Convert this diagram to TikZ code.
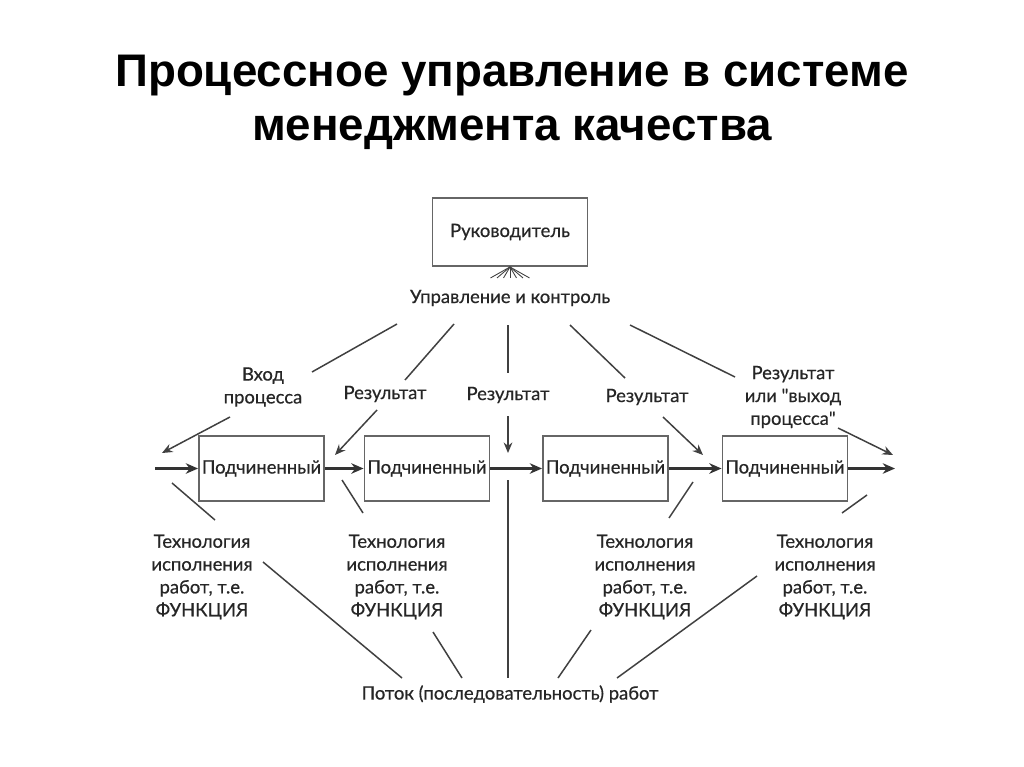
\documentclass[tikz,border=0pt]{standalone}
\usepackage{fontspec}
\setmainfont{Lato}
\newfontfamily\bodyfont{Lato}[FakeBold=0.5]
\newfontfamily\titlefont{Liberation Sans}
\usetikzlibrary{arrows.meta}

\begin{document}
\begin{tikzpicture}[x=0.02cm,y=-0.02cm,
  txt/.style={font=\bodyfont\fontsize{10.5}{13}\selectfont, text=black!85, align=center, inner sep=0pt},
  box/.style={txt, draw=black!60, line width=1.1pt, minimum width=2.5cm, minimum height=1.3cm},
  ln/.style={draw=black!75, line width=0.85pt},
  arr/.style={ln, -{Stealth[length=6pt,width=5pt]}},
  flow/.style={draw=black!80, line width=1.3pt, -{Stealth[length=7pt,width=6pt]}}]
  \useasboundingbox (0,0) rectangle (1024,767);

  % title
  \node[name=title1, font=\titlefont\bfseries\fontsize{26}{30}\selectfont] at (512,76) {Процессное управление в системе};
  \node[name=title2, font=\titlefont\bfseries\fontsize{26}{30}\selectfont] at (512,133) {менеджмента качества};

  % top
  \node[name=ruk, box, minimum width=3.1cm, minimum height=1.36cm] at (510,232) {Руководитель};
  \foreach \k in {-3,...,3}
    \draw[ln, line width=0.5pt] (ruk.south) -- ++(\k*6.5,11);
  \node[name=upr, txt] at (510,298) {Управление и контроль};

  \node[name=vhod, txt] at (263,387) {Вход\\процесса};
  \node[name=rez1, txt] at (385,394) {Результат};
  \node[name=rez2, txt] at (508,395) {Результат};
  \node[name=rez3, txt] at (647,397) {Результат};
  \node[name=rez4, txt] at (793,397) {Результат\\или \textquotedbl выход\\процесса\textquotedbl};

  \coordinate (u1) at (397,324); \coordinate (v1) at (312,372);
  \coordinate (u2) at (454,324); \coordinate (v2) at (405,380);
  \coordinate (u3) at (508,325); \coordinate (v3) at (508,373);
  \coordinate (u4) at (570,325); \coordinate (v4) at (625,378);
  \coordinate (u5) at (630,325); \coordinate (v5) at (735,377);
  \draw[ln] (u1) -- (v1);
  \draw[ln] (u2) -- (v2);
  \draw[ln] (u3) -- (v3);
  \draw[ln] (u4) -- (v4);
  \draw[ln] (u5) -- (v5);

  % workers
  \node[name=p1, box] at (261.5,468.5) {Подчиненный};
  \node[name=p2, box] at (427,468.5) {Подчиненный};
  \node[name=p3, box] at (605.5,468.5) {Подчиненный};
  \node[name=p4, box] at (785,468.5) {Подчиненный};

  \coordinate (in) at (155,468.5);
  \coordinate (out) at (895,468.5);
  \draw[flow] (in) -- (p1);
  \draw[flow] (p1) -- (p2);
  \draw[flow] (p2) -- (p3);
  \draw[flow] (p3) -- (p4);
  \draw[flow] (p4) -- (out);

  \coordinate (a1) at (230,417); \coordinate (b1) at (162,453);
  \coordinate (a2) at (377,410); \coordinate (b2) at (335,455);
  \coordinate (a3) at (508,416); \coordinate (b3) at (508,453);
  \coordinate (a4) at (663,417); \coordinate (b4) at (703,455);
  \coordinate (a5) at (838,428); \coordinate (b5) at (893,455);
  \draw[arr] (a1) -- (b1);
  \draw[arr] (a2) -- (b2);
  \draw[arr] (a3) -- (b3);
  \draw[arr] (a4) -- (b4);
  \draw[arr] (a5) -- (b5);

  % functions
  \node[name=f1, txt] at (202,577) {Технология\\исполнения\\работ, т.е.\\ФУНКЦИЯ};
  \node[name=f2, txt] at (397,577) {Технология\\исполнения\\работ, т.е.\\ФУНКЦИЯ};
  \node[name=f3, txt] at (645,577) {Технология\\исполнения\\работ, т.е.\\ФУНКЦИЯ};
  \node[name=f4, txt] at (825,577) {Технология\\исполнения\\работ, т.е.\\ФУНКЦИЯ};

  \coordinate (c1) at (172,483); \coordinate (d1) at (215,520);
  \coordinate (c2) at (342,480); \coordinate (d2) at (363,513);
  \coordinate (c3) at (693,482); \coordinate (d3) at (669,518);
  \coordinate (c4) at (867,495); \coordinate (d4) at (842,513);
  \draw[ln] (c1) -- (d1);
  \draw[ln] (c2) -- (d2);
  \draw[ln] (c3) -- (d3);
  \draw[ln] (c4) -- (d4);

  % flow of work
  \node[name=potok, txt] at (510,694) {Поток (последовательность) работ};

  \coordinate (g1) at (263,562); \coordinate (h1) at (402,678);
  \coordinate (g2) at (433,632); \coordinate (h2) at (462,678);
  \coordinate (g3) at (508,480); \coordinate (h3) at (508,678);
  \coordinate (g4) at (591,630); \coordinate (h4) at (558,678);
  \coordinate (g5) at (757,576); \coordinate (h5) at (617,678);
  \draw[ln] (g1) -- (h1);
  \draw[ln] (g2) -- (h2);
  \draw[ln] (g3) -- (h3);
  \draw[ln] (g4) -- (h4);
  \draw[ln] (g5) -- (h5);
\end{tikzpicture}
\end{document}
